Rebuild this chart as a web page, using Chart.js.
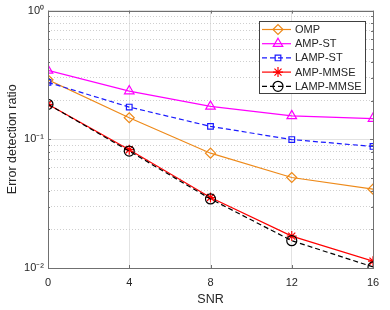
<!DOCTYPE html>
<html>
<head>
<meta charset="utf-8">
<script src="https://cdn.jsdelivr.net/npm/chart.js@4.4.0/dist/chart.umd.min.js"></script>
<style>
  html, body { margin: 0; padding: 0; background: #fff; }
  #wrap { width: 390px; height: 310px; }
</style>
</head>
<body>
<div id="wrap"><canvas id="chart"></canvas></div>
<script>
// values (log y axis)
const snr = [0, 4, 8, 12, 16];
const omp = [0.29, 0.147, 0.078, 0.0505, 0.041];
const ampSt = [0.343, 0.237, 0.180, 0.152, 0.145];
const lampSt = [0.277, 0.178, 0.126, 0.0995, 0.088];
const ampMmse = [0.187, 0.083, 0.0353, 0.0177, 0.0113];
const lampMmse = [0.187, 0.081, 0.0344, 0.0163, 0.0102];

const seriesNames = ['OMP', 'AMP-ST', 'LAMP-ST', 'AMP-MMSE', 'LAMP-MMSE'];
const xTicks = [0, 4, 8, 12, 16];
const yMajorTicks = [0.01, 0.1, 1];
const yTickLabels = ['10⁻²', '10⁻¹', '10⁰'];

const FONT = '"Liberation Sans", Arial, sans-serif';
const AXIS_COLOR = '#707070';
const TEXT_COLOR = '#262626';

// minor ticks 2..9 within each decade
function buildYTicks() {
    const ticks = [];
    for (let i = 0; i < yMajorTicks.length; i++) {
        ticks.push({ value: yMajorTicks[i], major: true });
        if (i < yMajorTicks.length - 1) {
            for (let k = 2; k <= 9; k++) {
                ticks.push({ value: +(k * yMajorTicks[i]).toPrecision(3), major: false });
            }
        }
    }
    return ticks;
}

function pairs(values) {
    return snr.map((x, i) => ({ x: x, y: values[i] }));
}

const styles = [
    { color: '#EE8A1A', point: 'rectRot', radius: 5, dash: [] },
    { color: '#FF00FF', point: 'triangle', radius: 5.5, dash: [] },
    { color: '#1A1AFF', point: 'rect', radius: 4, dash: [5, 3] },
    { color: '#FF0000', point: 'star', radius: 5, dash: [] },
    { color: '#000000', point: 'circle', radius: 5, dash: [5, 3] }
];
const seriesValues = [omp, ampSt, lampSt, ampMmse, lampMmse];

const datasets = seriesValues.map((vals, i) => ({
    label: seriesNames[i],
    data: pairs(vals),
    borderColor: styles[i].color,
    borderWidth: 1.2,
    borderDash: styles[i].dash,
    pointStyle: styles[i].point,
    pointRadius: styles[i].radius,
    pointBorderColor: styles[i].color,
    pointBackgroundColor: 'rgba(0,0,0,0)',
    pointBorderWidth: 1.2,
    tension: 0,
    fill: false,
    order: seriesValues.length - i
}));

// box, inward ticks and legend drawn like the matlab figure
const matlabAxes = {
    id: 'matlabAxes',
    afterDraw(chart) {
        const ctx = chart.ctx;
        const a = chart.chartArea;
        const xs = chart.scales.x;
        const ys = chart.scales.y;
        ctx.save();
        ctx.strokeStyle = AXIS_COLOR;
        ctx.lineWidth = 1;
        ctx.setLineDash([]);
        ctx.beginPath();
        xTicks.forEach(v => {
            const px = Math.round(xs.getPixelForValue(v)) + 0.5;
            ctx.moveTo(px, a.bottom); ctx.lineTo(px, a.bottom - 3);
            ctx.moveTo(px, a.top); ctx.lineTo(px, a.top + 3);
        });
        buildYTicks().forEach(t => {
            const py = Math.round(ys.getPixelForValue(t.value)) + 0.5;
            const len = t.major ? 3 : 2;
            ctx.moveTo(a.left, py); ctx.lineTo(a.left + len, py);
            ctx.moveTo(a.right, py); ctx.lineTo(a.right - len, py);
        });
        ctx.stroke();
        ctx.strokeRect(Math.round(a.left) + 0.5, Math.round(a.top) + 0.5,
            Math.round(a.right - a.left), Math.round(a.bottom - a.top));

        // legend
        const lx = 259, ly = 21, lw = 106, lh = 72;
        ctx.fillStyle = '#ffffff';
        ctx.fillRect(lx, ly, lw, lh);
        ctx.strokeStyle = '#404040';
        ctx.strokeRect(lx + 0.5, ly + 0.5, lw, lh);
        ctx.font = '11px ' + FONT;
        ctx.textBaseline = 'middle';
        ctx.textAlign = 'left';
        chart.data.datasets.forEach((ds, i) => {
            const y = ly + 8.5 + i * 14.2;
            ctx.strokeStyle = ds.borderColor;
            ctx.lineWidth = 1.2;
            ctx.setLineDash(ds.borderDash);
            ctx.beginPath();
            ctx.moveTo(lx + 3, y);
            ctx.lineTo(lx + 32, y);
            ctx.stroke();
            ctx.setLineDash([]);
            ctx.fillStyle = 'rgba(0,0,0,0)';
            Chart.helpers.drawPoint(ctx, {
                pointStyle: ds.pointStyle,
                radius: ds.pointRadius,
                rotation: 0,
                borderWidth: 1.2
            }, lx + 19, y);
            ctx.fillStyle = TEXT_COLOR;
            ctx.fillText(ds.label, lx + 36, y + 0.5);
        });
        ctx.restore();
    }
};

new Chart(document.getElementById('chart'), {
    type: 'line',
    data: { datasets: datasets },
    options: {
        responsive: true,
        maintainAspectRatio: false,
        animation: false,
        layout: { padding: { left: 0, top: 10, right: 17, bottom: 0 } },
        plugins: {
            legend: { display: false },
            tooltip: { enabled: false }
        },
        scales: {
            x: {
                type: 'linear',
                min: 0,
                max: 16,
                afterBuildTicks: scale => { scale.ticks = xTicks.map(v => ({ value: v })); },
                afterFit: scale => { scale.height = 42; },
                grid: { color: '#e2e2e2', lineWidth: 1, drawTicks: false },
                border: { display: false },
                ticks: {
                    color: TEXT_COLOR,
                    font: { family: FONT, size: 11 },
                    padding: 8,
                    maxRotation: 0,
                    autoSkip: false
                },
                title: {
                    display: true,
                    text: 'SNR',
                    color: TEXT_COLOR,
                    font: { family: FONT, size: 12.5 },
                    padding: { top: 0, bottom: 3 }
                }
            },
            y: {
                type: 'logarithmic',
                min: 0.01,
                max: 1,
                afterBuildTicks: scale => { scale.ticks = buildYTicks(); },
                afterFit: scale => { scale.width = 48; },
                grid: {
                    drawTicks: false,
                    lineWidth: 1,
                    color: ctx => (ctx.tick && ctx.tick.major) ? '#e2e2e2' : '#cfcfcf'
                },
                border: {
                    display: false,
                    dash: ctx => (ctx.tick && !ctx.tick.major) ? [1, 2] : []
                },
                ticks: {
                    color: TEXT_COLOR,
                    font: { family: FONT, size: 11 },
                    padding: 4,
                    autoSkip: false,
                    callback: function(value) {
                        const idx = yMajorTicks.findIndex(v => Math.abs(v - value) < 1e-9);
                        return idx >= 0 ? yTickLabels[idx] : '';
                    }
                },
                title: {
                    display: true,
                    text: 'Error detection ratio',
                    color: TEXT_COLOR,
                    font: { family: FONT, size: 12.5 },
                    padding: { top: 5, bottom: 0 }
                }
            }
        }
    },
    plugins: [matlabAxes]
});
</script>
</body>
</html>
